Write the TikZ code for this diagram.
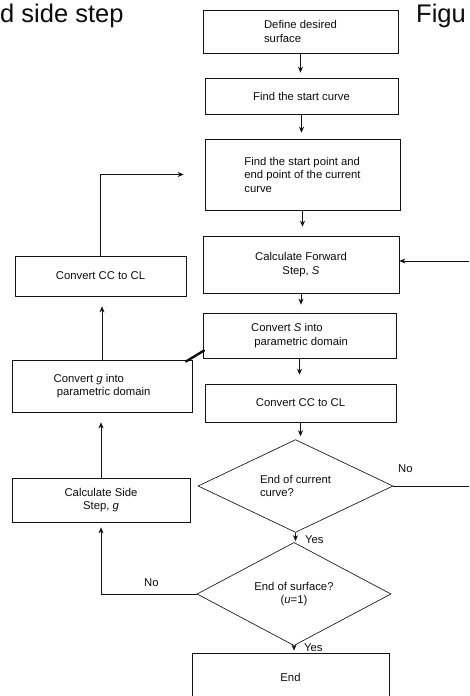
\documentclass[tikz,border=0pt]{standalone}
\usepackage{fontspec}
\setmainfont{Liberation Sans}
\usetikzlibrary{shapes.geometric,arrows.meta}
\begin{document}
\begin{tikzpicture}[x=1pt,y=-1pt,
  ln/.style={draw=gray!15!black, line width=0.65pt},
  txt/.style={font=\fontsize{11.3}{13.5}\selectfont, text=gray!10!black},
  box/.style={ln, txt, rectangle, inner sep=0pt, align=center},
  boxl/.style={box, align=left},
  dia/.style={ln, txt, diamond, inner sep=0pt, align=left},
  arr/.style={ln, -{Stealth[length=6pt,width=5pt]}},
  lbl/.style={txt, inner sep=0pt},
  big/.style={font=\fontsize{25.5}{28}\selectfont, text=gray!10!black, inner sep=0pt}
]
\useasboundingbox (0,0) rectangle (469,696);
\clip (0,0) rectangle (469,696);
\fill[white] (0,0) rectangle (469,696);

% titles
\node[big, anchor=base west] (ttl) at (0,22) {d side step};
\node[big, anchor=base west] (fig) at (416,22) {Figu};

% right column
\node[boxl, minimum width=195pt, minimum height=43pt] (b1) at (300.5,31.5) {Define desired\\surface};
\node[box, minimum width=193pt, minimum height=36pt] (b2) at (301.5,96) {Find the start curve};
\node[boxl, minimum width=195pt, minimum height=71pt] (b3) at (302.5,174.5) {Find the start point and\\end point of the current\\curve};
\node[box, minimum width=196pt, minimum height=57pt] (b4) at (301,264.5) {Calculate Forward\\Step, \textit{S}};
\node[boxl, minimum width=193pt, minimum height=45pt] (b5) at (299.5,335.5) {Convert \textit{S} into\\\ parametric domain};
\node[box, minimum width=191pt, minimum height=38pt] (b6) at (300.5,403) {Convert CC to CL};
\node[dia, minimum width=195pt, minimum height=90pt] (d1) at (295.5,486) {End of current\\curve?};
\node[dia, align=center, minimum width=194pt, minimum height=90pt] (d2) at (294,594) {End of surface?\\(\textit{u}=1)};
\node[box, minimum width=197pt, minimum height=48pt] (e) at (290.5,677) {End};

% left column
\node[box, minimum width=171pt, minimum height=40pt] (l1) at (100.5,276) {Convert CC to CL};
\node[boxl, minimum width=180pt, minimum height=52pt] (l2) at (102,386) {Convert \textit{g} into\\\ parametric domain};
\node[box, minimum width=178pt, minimum height=44pt] (l3) at (101,500) {Calculate Side\\Step, \textit{g}};

% main flow
\draw[arr, shorten >=5pt] (b1.south) -- (b1.south |- b2.north);
\draw[arr, shorten >=6pt] (b2.south) -- (b2.south |- b3.north);
\draw[arr, shorten >=9pt] (b3.south) -- (b3.south |- b4.north);
\draw[arr, shorten >=8pt] (b4.south) -- (b4.south |- b5.north);
\draw[arr, shorten >=9pt] (b5.south) -- (b5.south |- b6.north);
\draw[arr, shorten >=3pt] (b6.south) -- (b6.south |- d1.north);
\draw[arr, shorten >=1pt] (d1.south) -- (d1.south |- d2.north);
\draw[arr, shorten >=2pt] (d2.south) -- (d2.south |- e.north);
\node[lbl, anchor=west] (y1) at (305,540) {Yes};
\node[lbl, anchor=west] (y2) at (304,648) {Yes};

% No branch of current curve
\coordinate (rout) at (469,486);
\draw[ln] (d1.east) -- (rout);
\node[lbl, anchor=west] (n1) at (398,469) {No};

% incoming arrow to forward step
\coordinate (rin) at (469,261);
\draw[arr] (rin) -- (b4.east |- rin);

% No branch of surface
\draw[arr, shorten >=5pt] (d2.west) -| (l3.south);
\node[lbl, anchor=west] (n2) at (144,583) {No};

% left column upward flow
\draw[arr, shorten >=10pt] (l3.north) -- (l3.north |- l2.south);
\draw[arr, shorten >=10pt] (l2.north) -- (l2.north |- l1.south);
\draw[arr, shorten >=21pt] (l1.north) |- (b3.west);

% smudge stroke
\draw[draw=gray!10!black, line width=2.4pt, line cap=round] (186,361.5) -- (204,350.5);
\end{tikzpicture}
\end{document}
